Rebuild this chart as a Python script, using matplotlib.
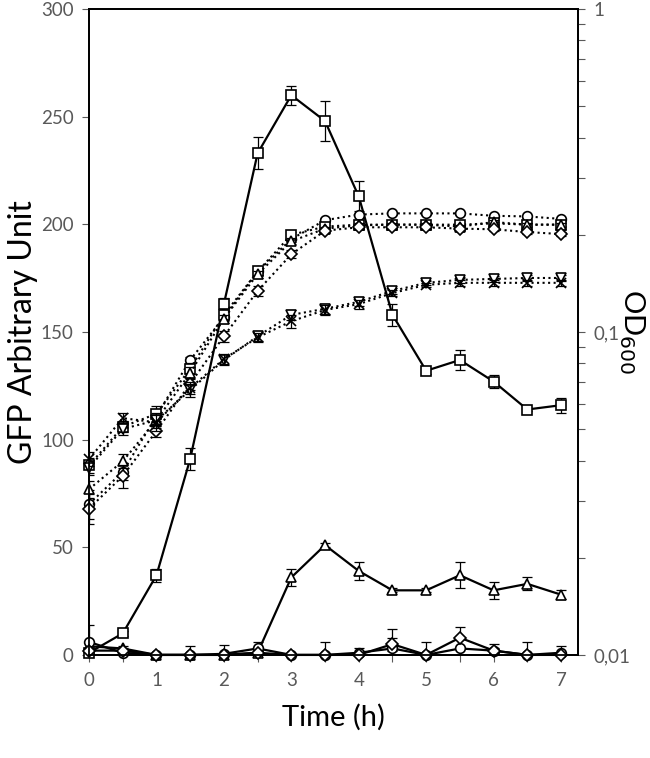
import numpy as np
import matplotlib.pyplot as plt
from matplotlib.ticker import FixedLocator, MultipleLocator, NullFormatter

plt.rcParams['font.family'] = ['Lato', 'DejaVu Sans']

time_h = [0, 0.5, 1, 1.5, 2, 2.5, 3, 3.5, 4, 4.5, 5, 5.5, 6, 6.5, 7]

# GFP (left axis, solid lines)
gfp_square = [1, 10, 37, 91, 163, 233, 260, 248, 213, 158, 132, 137, 127, 114, 116]
gfp_square_err = [1, 1, 3, 5, 3, 7.5, 4.5, 9.5, 7, 5, 1.5, 4.5, 3, 0.5, 3.5]
gfp_triangle = [4, 3, 0, 0, 0, 1, 36, 51, 39, 30, 30, 37, 30, 33, 28]
gfp_triangle_err = [2, 1, 1, 1, 1, 1, 4, 1, 4, 1, 1, 6, 4, 3, 2]
gfp_circle = [6, 1, 0, 0, 0.5, 3, 0, 0, 1, 3, 0, 3, 2, 0, 1]
gfp_circle_err = [8, 1, 1, 4, 4, 3, 0, 6, 2, 9, 6, 5, 3, 6, 3]
gfp_diamond = [2, 2, 0, 0, 0, 1, 0, 0, 0, 5, 0, 8, 2, 0, 0]
gfp_diamond_err = [1, 1, 0, 0, 0, 1, 0, 0, 0, 3, 0, 5, 1, 0, 0]

# OD600 (right axis, dotted lines)
od_circle = [0.0293, 0.0369, 0.0550, 0.0819, 0.111, 0.154, 0.194, 0.222, 0.231, 0.233, 0.233, 0.233, 0.229, 0.228, 0.224]
od_square = [0.0386, 0.0509, 0.0558, 0.0770, 0.113, 0.154, 0.200, 0.212, 0.215, 0.215, 0.215, 0.215, 0.217, 0.215, 0.215]
od_triangle = [0.0326, 0.0398, 0.0533, 0.0747, 0.110, 0.151, 0.191, 0.209, 0.214, 0.215, 0.215, 0.212, 0.219, 0.215, 0.215]
od_diamond = [0.0284, 0.0358, 0.0494, 0.0692, 0.0970, 0.134, 0.174, 0.206, 0.211, 0.211, 0.211, 0.209, 0.208, 0.204, 0.201]
od_x = [0.0404, 0.0541, 0.0525, 0.0671, 0.0825, 0.0962, 0.108, 0.117, 0.122, 0.132, 0.140, 0.142, 0.142, 0.142, 0.142]
od_vtri = [0.0380, 0.0501, 0.0533, 0.0661, 0.0819, 0.0970, 0.113, 0.118, 0.124, 0.134, 0.142, 0.145, 0.146, 0.147, 0.147]
od_err_circle = [0.003, 0.002, 0.002, 0.002, 0.003, 0.004, 0.004, 0.003, 0.003, 0.002, 0.002, 0.002, 0.002, 0.002, 0.002]
od_err_square = [0.002, 0.002, 0.003, 0.003, 0.003, 0.004, 0.004, 0.003, 0.002, 0.002, 0.002, 0.002, 0.002, 0.002, 0.002]
od_err_triangle = [0.002, 0.002, 0.002, 0.003, 0.003, 0.004, 0.004, 0.003, 0.003, 0.003, 0.003, 0.003, 0.003, 0.003, 0.003]
od_err_diamond = [0.003, 0.003, 0.002, 0.003, 0.004, 0.005, 0.005, 0.004, 0.003, 0.003, 0.003, 0.003, 0.003, 0.003, 0.003]
od_err_x = [0.002, 0.002, 0.003, 0.003, 0.003, 0.003, 0.005, 0.004, 0.004, 0.003, 0.002, 0.003, 0.003, 0.003, 0.003]
od_err_vtri = [0.002, 0.002, 0.003, 0.003, 0.003, 0.003, 0.004, 0.004, 0.004, 0.003, 0.002, 0.003, 0.003, 0.003, 0.003]

tick_grey = '#595959'

fig = plt.figure(figsize=(6.5, 7.58), dpi=100)
ax = fig.add_axes([0.137, 0.136, 0.752, 0.852])
ax2 = ax.twinx()

mk = dict(mfc='white', mec='black', mew=1.2, ms=7, color='black', clip_on=False)
eb = dict(fmt='none', ecolor='black', elinewidth=0.9, capsize=3.5, capthick=0.9)

gfp = [(gfp_square, gfp_square_err, 's'), (gfp_triangle, gfp_triangle_err, '^'),
       (gfp_circle, gfp_circle_err, 'o'), (gfp_diamond, gfp_diamond_err, 'D')]
for vals, err, m in gfp:
    ax.errorbar(time_h, vals, yerr=err, **eb)
    ax.plot(time_h, vals, '-', marker=m, lw=1.6, zorder=3,
            **dict(mk, ms=6.5 if m == 'D' else 7))

od = [(od_circle, od_err_circle, 'o'), (od_square, od_err_square, 's'),
      (od_triangle, od_err_triangle, '^'), (od_diamond, od_err_diamond, 'D'),
      (od_vtri, od_err_vtri, 'v'), (od_x, od_err_x, 'x')]
for vals, err, m in od:
    ax2.errorbar(time_h, vals, yerr=err, **eb)
    ax2.plot(time_h, vals, ':', marker=m, lw=1.5, **dict(mk, ms=6 if m == 'D' else 7))

ax.set_xlim(0, 7.25)
ax.set_ylim(0, 300)
ax2.set_yscale('log')
ax2.set_ylim(0.01, 1)

ax.xaxis.set_major_locator(MultipleLocator(1))
ax.xaxis.set_minor_locator(MultipleLocator(0.5))
ax.yaxis.set_major_locator(MultipleLocator(50))
ax2.yaxis.set_major_locator(FixedLocator([0.01, 0.1, 1]))
ax2.set_yticklabels(['0,01', '0,1', '1'])
ax2.yaxis.set_minor_locator(FixedLocator([k * 10.0 ** e for e in (-2, -1) for k in range(2, 10)]))
ax2.yaxis.set_minor_formatter(NullFormatter())

for a in (ax, ax2):
    a.tick_params(which='both', direction='out', length=5, width=0.8, color=tick_grey,
                  labelcolor=tick_grey, labelsize=13.5, pad=6)
    for s in a.spines.values():
        s.set_linewidth(1.3)
ax.tick_params(axis='x', which='major', pad=7)

ax.set_xlabel('Time (h)', fontsize=21, labelpad=11)
fig.text(23 / 650, 0.136 + 0.852 / 2, 'GFP Arbitrary Unit', fontsize=23,
         rotation=90, ha='center', va='center')
fig.text(632 / 650, 0.136 + 0.852 / 2, 'OD$_{600}$', fontsize=21,
         rotation=270, ha='center', va='center')

fig.savefig('out.png', dpi=100)
